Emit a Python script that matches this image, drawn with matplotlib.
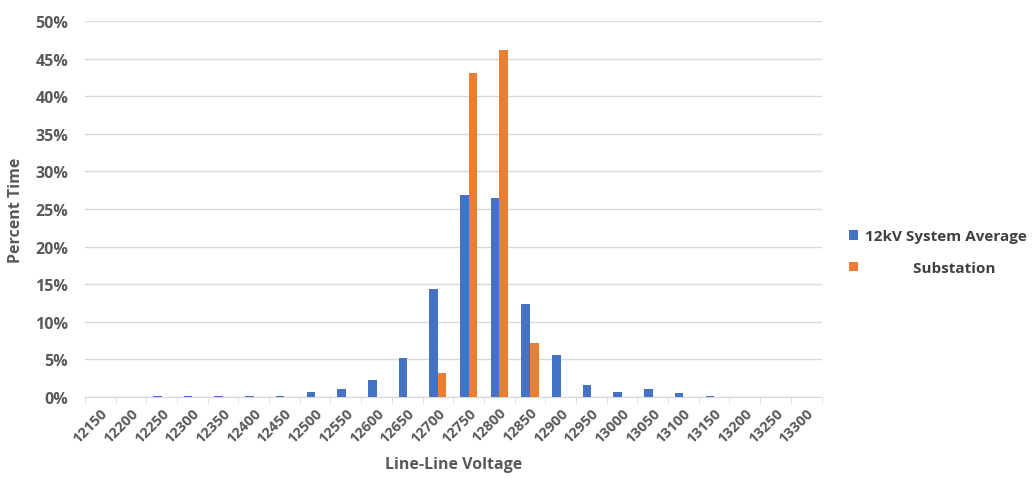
import numpy as np
import matplotlib.pyplot as plt
from matplotlib.ticker import PercentFormatter, MultipleLocator

plt.rcParams['font.family'] = ['Open Sans', 'DejaVu Sans']

voltages = [12150, 12200, 12250, 12300, 12350, 12400, 12450, 12500,
            12550, 12600, 12650, 12700, 12750, 12800, 12850, 12900,
            12950, 13000, 13050, 13100, 13150, 13200, 13250, 13300]
system_avg = [0.0, 0.0, 0.05, 0.05, 0.05, 0.05, 0.15, 0.7,
              1.1, 2.2, 5.2, 14.3, 26.9, 26.5, 12.4, 5.6,
              1.6, 0.7, 1.0, 0.5, 0.05, 0.0, 0.0, 0.0]
substation = [0, 0, 0, 0, 0, 0, 0, 0,
              0, 0, 0, 3.2, 43.1, 46.2, 7.2, 0,
              0, 0, 0, 0, 0, 0, 0, 0]

blue = '#4472C4'
orange = '#ED7D31'
grey = '#595959'

fig = plt.figure(figsize=(10.36, 4.81), dpi=100)
ax = fig.add_axes([0.082, 0.173, 0.711, 0.781])

x = np.arange(len(voltages))
w = 0.28
ax.bar(x - w / 2, system_avg, w, color=blue, label='12kV System Average', zorder=3)
ax.bar(x + w / 2, substation, w, color=orange, label='            Substation', zorder=3)

ax.set_xlim(-0.5, len(voltages) - 0.5)
ax.set_ylim(0, 50)
ax.yaxis.set_major_locator(MultipleLocator(5))
ax.yaxis.set_major_formatter(PercentFormatter(decimals=0))
ax.grid(axis='y', color='#D9D9D9', linewidth=1, zorder=0)

ax.set_xticks(x)
ax.set_xticklabels([str(v) for v in voltages], rotation=45, ha='right',
                   rotation_mode='anchor', fontsize=10.5, color=grey, fontweight='bold')
ax.set_xticks(np.arange(-0.5, len(voltages)), minor=True)
ax.tick_params(axis='x', which='major', length=0, pad=6)
ax.tick_params(axis='x', which='minor', length=4, color='#D9D9D9')
ax.tick_params(axis='y', length=0, labelsize=11.5, labelcolor=grey, pad=12)
for lbl in ax.get_yticklabels():
    lbl.set_fontweight('bold')

for s in ['top', 'right', 'left']:
    ax.spines[s].set_visible(False)
ax.spines['bottom'].set_color('#D9D9D9')

ax.set_xlabel('Line-Line Voltage', fontsize=11.5, fontweight='bold', color=grey, labelpad=8)
ax.set_ylabel('Percent Time', fontsize=11.5, fontweight='bold', color=grey, labelpad=8)

leg = ax.legend(loc='center left', bbox_to_anchor=(1.018, 0.385), frameon=False,
                handlelength=0.6, handleheight=0.6, handletextpad=0.5,
                labelspacing=1.15, prop={'size': 11, 'weight': 'bold'})
for t in leg.get_texts():
    t.set_color('#404040')

fig.savefig('out.png', dpi=100)
